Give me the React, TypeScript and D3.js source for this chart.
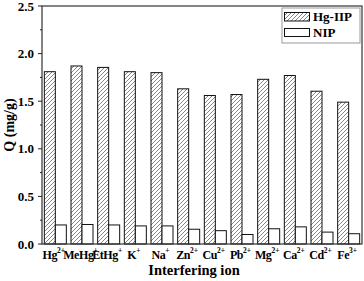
import React from "react";
import * as d3 from "d3";

const categories = ["Hg", "MeHg", "EtHg", "K", "Na", "Zn", "Cu", "Pb", "Mg", "Ca", "Cd", "Fe"];
const charges = ["2+", "+", "+", "+", "+", "2+", "2+", "2+", "2+", "2+", "2+", "3+"];
const hgIIP = [1.81, 1.87, 1.855, 1.81, 1.80, 1.63, 1.56, 1.57, 1.73, 1.77, 1.605, 1.49];
const nip = [0.2, 0.205, 0.2, 0.19, 0.19, 0.155, 0.14, 0.1, 0.16, 0.18, 0.125, 0.108];
const series = ["Hg-IIP", "NIP"];
const yTicks = [0, 0.5, 1.0, 1.5, 2.0, 2.5];
const yMinor = [0.25, 0.75, 1.25, 1.75, 2.25];

const W = 364, H = 281;
const L = 42, R = 362, T = 6, B = 244;
const txt: React.CSSProperties = { fontFamily: "'Liberation Serif', 'Times New Roman', serif", fontWeight: 700 };

export default function App() {
  const x = d3.scaleBand<string>().domain(categories).range([L, R]).paddingInner(0.175).paddingOuter(0.0875);
  const xi = d3.scaleBand<string>().domain(series).range([0, x.bandwidth()]);
  const y = d3.scaleLinear().domain([0, 2.5]).range([B, T]);
  return (
    <svg width={W} height={H} style={{ position: "absolute", left: 0, top: 0, background: "#fff" }}>
      <defs>
        <pattern id="hatch" patternUnits="userSpaceOnUse" width={4} height={4}>
          <path d="M-1,1 l2,-2 M0,4 l4,-4 M3,5 l2,-2" stroke="#666" strokeWidth={0.8} />
        </pattern>
      </defs>
      {categories.map((c, i) => (
        <g key={c}>
          <rect x={x(c)! + xi("Hg-IIP")!} y={y(hgIIP[i])} width={xi.bandwidth()} height={B - y(hgIIP[i])}
            fill="url(#hatch)" stroke="#111" strokeWidth={1} />
          <rect x={x(c)! + xi("NIP")!} y={y(nip[i])} width={xi.bandwidth()} height={B - y(nip[i])}
            fill="#fff" stroke="#111" strokeWidth={1} />
        </g>
      ))}
      <rect x={L} y={T} width={R - L} height={B - T} fill="none" stroke="#333" strokeWidth={1.2} />
      {yTicks.map(t => (
        <g key={t}>
          <line x1={L - 4} x2={L} y1={y(t)} y2={y(t)} stroke="#222" strokeWidth={1} />
          <text x={L - 8} y={y(t) + 4.5} textAnchor="end" style={txt} fontSize={13}>{t.toFixed(1)}</text>
        </g>
      ))}
      {yMinor.map(t => (
        <line key={t} x1={L - 2} x2={L} y1={y(t)} y2={y(t)} stroke="#222" strokeWidth={1} />
      ))}
      {categories.map((c, i) => (
        <text key={c} x={x(c)! + x.bandwidth() / 2 - 1.5} y={259} textAnchor="middle" style={txt} fontSize={12} letterSpacing={-0.4}>
          {c}<tspan fontSize={7.5} dy={-6} letterSpacing={0}>{charges[i]}</tspan>
        </text>
      ))}
      <text x={194} y={275} textAnchor="middle" style={txt} fontSize={14.5}>Interfering ion</text>
      <text transform={`translate(14,${(T + B) / 2}) rotate(-90)`} textAnchor="middle" style={txt} fontSize={14}>Q (mg/g)</text>
      <g>
        <rect x={282} y={8} width={78} height={35} fill="#fff" stroke="#999" strokeWidth={1} />
        <rect x={284.5} y={12.5} width={25} height={8.5} fill="url(#hatch)" stroke="#111" strokeWidth={1} />
        <rect x={284.5} y={28.5} width={25} height={8} fill="#fff" stroke="#111" strokeWidth={1} />
        <text x={313} y={21} style={txt} fontSize={13}>{series[0]}</text>
        <text x={313} y={37} style={txt} fontSize={13}>{series[1]}</text>
      </g>
    </svg>
  );
}
